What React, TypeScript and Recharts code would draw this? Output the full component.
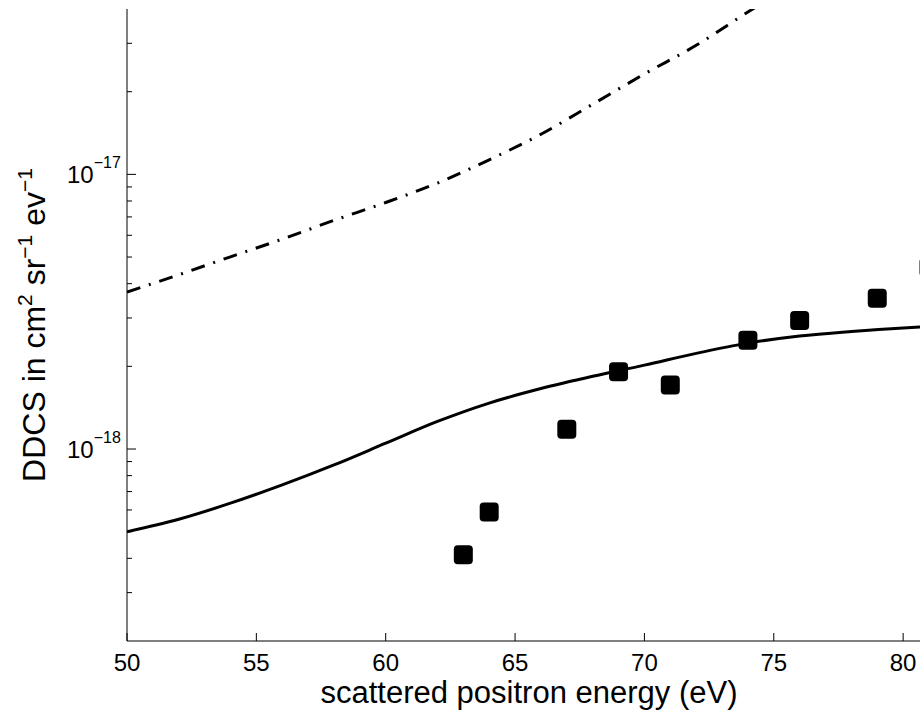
import React from 'react';
import { ComposedChart, Line, Scatter, XAxis, YAxis, Label } from 'recharts';

// energies (eV) at which the two model curves were read
const curveEnergies = [50, 52, 54, 56, 58, 60, 62, 64, 66, 68, 70, 72, 74, 76, 78, 80, 81];
const solidModel = [
  5.0e-19, 5.55e-19, 6.35e-19, 7.4e-19, 8.75e-19, 1.05e-18, 1.26e-18, 1.47e-18, 1.66e-18,
  1.84e-18, 2.02e-18, 2.23e-18, 2.43e-18, 2.58e-18, 2.68e-18, 2.76e-18, 2.79e-18,
];
const dashDotModel = [
  3.73e-18, 4.31e-18, 5.01e-18, 5.81e-18, 6.8e-18, 7.9e-18, 9.3e-18, 1.13e-17, 1.4e-17,
  1.8e-17, 2.32e-17, 2.95e-17, 3.9e-17, 5.1e-17, null, null, null,
];

// measured points
const expEnergies = [63, 64, 67, 69, 71, 74, 76, 79, 81];
const expValues = [4.12e-19, 5.9e-19, 1.18e-18, 1.91e-18, 1.71e-18, 2.49e-18, 2.94e-18, 3.54e-18, 4.59e-18];

const xTicks = [50, 55, 60, 65, 70, 75, 80];
const yMajor = [1e-18, 1e-17];
const yTicks = [
  3e-19, 4e-19, 5e-19, 6e-19, 7e-19, 8e-19, 9e-19,
  1e-18, 2e-18, 3e-18, 4e-18, 5e-18, 6e-18, 7e-18, 8e-18, 9e-18,
  1e-17, 2e-17, 3e-17,
];

const FONT = '"Liberation Sans", Arial, Helvetica, sans-serif';
const WIDTH = 960;
const HEIGHT = 713;
const LEFT = 127;
const TOP = 9;
const BOTTOM = 641;
const RIGHT = 929;

const solidData = curveEnergies.map((x, i) => ({ x, y: solidModel[i] }));
const dashData = curveEnergies
  .map((x, i) => ({ x, y: dashDotModel[i] }))
  .filter((d) => d.y !== null);
const expData = expEnergies.map((x, i) => ({ x, y: expValues[i] }));

const BottomTick = (props: any) => {
  const { x, payload } = props;
  return (
    <g>
      <line x1={x} x2={x} y1={BOTTOM} y2={BOTTOM - 8} stroke="#000" strokeWidth={1} />
      <text x={x} y={BOTTOM + 30} textAnchor="middle" fontSize={24} fontFamily={FONT} fill="#000">
        {payload.value}
      </text>
    </g>
  );
};

const TopTick = (props: any) => {
  const { x } = props;
  return <line x1={x} x2={x} y1={TOP} y2={TOP + 9} stroke="#000" strokeWidth={1} />;
};

const isMajor = (v: number) => yMajor.some((m) => Math.abs(v / m - 1) < 1e-6);

const LeftTick = (props: any) => {
  const { y, payload } = props;
  const major = isMajor(payload.value);
  const exp = Math.round(Math.log10(payload.value));
  return (
    <g>
      <line x1={LEFT} x2={LEFT + (major ? 9 : 5)} y1={y} y2={y} stroke="#000" strokeWidth={1} />
      {major && (
        <text x={LEFT - 60} y={y + 9} fontSize={24} fontFamily={FONT} fill="#000">
          10
          <tspan dy={-15} fontSize={16}>{'\u2212' + Math.abs(exp)}</tspan>
        </text>
      )}
    </g>
  );
};

const RightTick = (props: any) => {
  const { y, payload } = props;
  const major = isMajor(payload.value);
  return <line x1={RIGHT} x2={RIGHT - (major ? 9 : 5)} y1={y} y2={y} stroke="#000" strokeWidth={1} />;
};

const XTitle = (props: any) => {
  const { viewBox } = props;
  const cx = viewBox.x + viewBox.width / 2;
  return (
    <text x={cx + 1} y={BOTTOM + 62} textAnchor="middle" fontSize={31} fontFamily={FONT} fill="#000">
      scattered positron energy (eV)
    </text>
  );
};

const YTitle = () => {
  const cx = 45;
  const cy = (TOP + BOTTOM) / 2;
  return (
    <text
      x={cx}
      y={cy}
      transform={`rotate(-90, ${cx}, ${cy})`}
      textAnchor="middle"
      fontSize={32}
      fontFamily={FONT}
      fill="#000"
      style={{ whiteSpace: 'pre' }}
    >
      DDCS in cm
      <tspan dy={-13} fontSize={21}>2</tspan>
      <tspan dy={13}>{' sr'}</tspan>
      <tspan dy={-13} fontSize={21}>{'\u22121'}</tspan>
      <tspan dy={13}>{' ev'}</tspan>
      <tspan dy={-13} fontSize={21}>{'\u22121'}</tspan>
    </text>
  );
};

const SquareDot = (props: any) => {
  const { cx, cy } = props;
  if (cx == null || cy == null) return null;
  return <rect x={cx - 9.5} y={cy - 9.5} width={19} height={19} rx={4} ry={4} fill="#000" />;
};

const App: React.FC = () => {
  return (
    <div
      style={{
        position: 'absolute',
        left: 0,
        top: 0,
        width: 920,
        height: HEIGHT,
        overflow: 'hidden',
        background: '#fff',
      }}
    >
      <ComposedChart
        width={WIDTH}
        height={HEIGHT}
        margin={{ top: TOP, right: WIDTH - RIGHT, bottom: 0, left: 0 }}
      >
        <XAxis
          xAxisId="bottom"
          dataKey="x"
          type="number"
          domain={[50, 81]}
          ticks={xTicks}
          interval={0}
          allowDataOverflow
          height={HEIGHT - BOTTOM}
          axisLine={{ stroke: '#000', strokeWidth: 1 }}
          tickLine={false}
          tick={<BottomTick />}
        >
          <Label content={<XTitle />} />
        </XAxis>
        <XAxis
          xAxisId="top"
          orientation="top"
          dataKey="x"
          type="number"
          domain={[50, 81]}
          ticks={xTicks}
          interval={0}
          allowDataOverflow
          height={0}
          axisLine={{ stroke: '#000', strokeWidth: 1 }}
          tickLine={false}
          tick={<TopTick />}
        />
        <YAxis
          yAxisId="left"
          type="number"
          scale="log"
          domain={[2e-19, 4e-17]}
          ticks={yTicks}
          interval={0}
          allowDataOverflow
          width={LEFT}
          axisLine={{ stroke: '#000', strokeWidth: 1 }}
          tickLine={false}
          tick={<LeftTick />}
        >
          <Label content={<YTitle />} />
        </YAxis>
        <YAxis
          yAxisId="right"
          orientation="right"
          type="number"
          scale="log"
          domain={[2e-19, 4e-17]}
          ticks={yTicks}
          interval={0}
          allowDataOverflow
          width={0}
          axisLine={{ stroke: '#000', strokeWidth: 1 }}
          tickLine={false}
          tick={<RightTick />}
        />
        <Line
          xAxisId="bottom"
          yAxisId="left"
          data={dashData}
          dataKey="y"
          type="monotone"
          stroke="#000"
          strokeWidth={3}
          strokeDasharray="14 9 2 9"
          dot={false}
          activeDot={false}
          isAnimationActive={false}
        />
        <Line
          xAxisId="bottom"
          yAxisId="left"
          data={solidData}
          dataKey="y"
          type="monotone"
          stroke="#000"
          strokeWidth={3}
          dot={false}
          activeDot={false}
          isAnimationActive={false}
        />
        <Scatter
          xAxisId="bottom"
          yAxisId="left"
          data={expData}
          dataKey="y"
          fill="#000"
          shape={<SquareDot />}
          isAnimationActive={false}
        />
      </ComposedChart>
    </div>
  );
};

export default App;
